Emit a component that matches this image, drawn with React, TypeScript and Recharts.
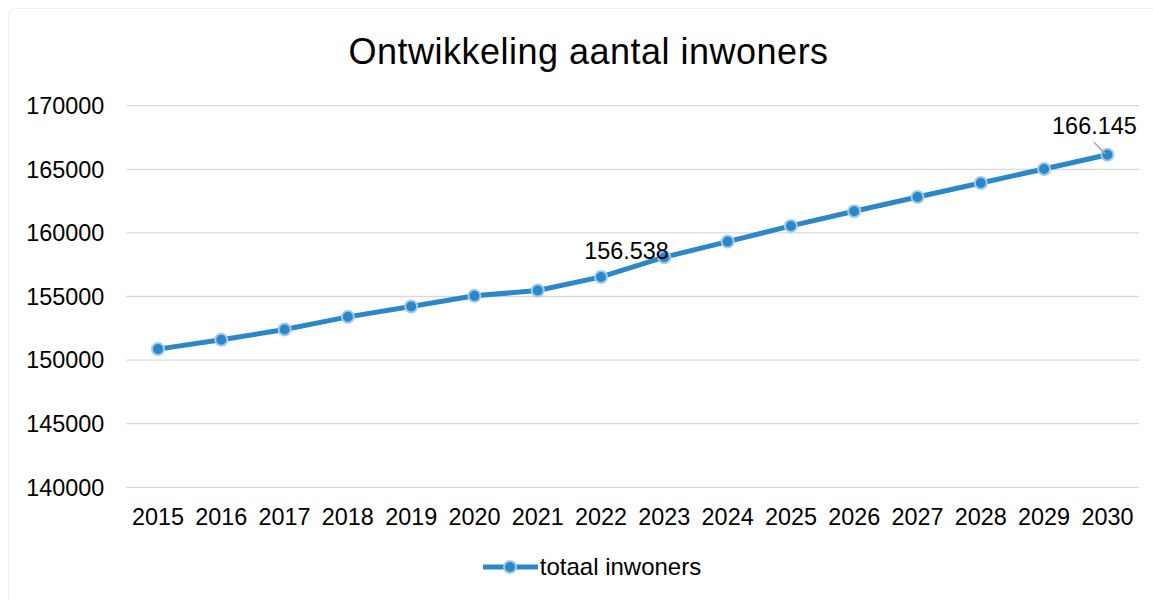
import React from 'react';
import { LineChart, Line, XAxis, YAxis, CartesianGrid, Legend } from 'recharts';

const years = ['2015', '2016', '2017', '2018', '2019', '2020', '2021', '2022', '2023', '2024', '2025', '2026', '2027', '2028', '2029', '2030'];
const inwoners = [150864, 151595, 152404, 153401, 154210, 155051, 155467, 156538, 158091, 159316, 160549, 161704, 162827, 163927, 165027, 166145];
const yTicks = [140000, 145000, 150000, 155000, 160000, 165000, 170000];
const labelledYears = ['2022', '2030'];
const seriesName = 'totaal inwoners';
const title = 'Ontwikkeling aantal inwoners';

const data = years.map((y, i) => ({ jaar: y, inwoners: inwoners[i] }));

const FONT = '"Liberation Sans", Arial, Helvetica, sans-serif';
const BLUE = '#2b87c8';
const LIGHT = '#9fcbed';

const fmt = (v: number) => {
  const s = String(v);
  return s.slice(0, s.length - 3) + '.' + s.slice(s.length - 3);
};

const DataLabel = (props: any) => {
  const { x, y, index, value } = props;
  const yr = years[index];
  if (!labelledYears.includes(yr)) return null;
  if (yr === '2030') {
    return (
      <g>
        <line x1={x - 13.5} y1={y - 12.5} x2={x - 2} y2={y - 1} stroke="#a6a6a6" strokeWidth={1.5} />
        <text x={x - 13} y={y - 20.7} textAnchor="middle" fontSize={23.4} fontFamily={FONT} fill="#000">
          {fmt(value)}
        </text>
      </g>
    );
  }
  return (
    <text x={x + 25.5} y={y - 17.7} textAnchor="middle" fontSize={23.4} fontFamily={FONT} fill="#000">
      {fmt(value)}
    </text>
  );
};

const LegendContent = () => (
  <div style={{ height: 40, display: 'flex', justifyContent: 'center', alignItems: 'center', paddingLeft: 44 }}>
    <svg width={60} height={20} style={{ display: 'block' }}>
      <line x1={1} y1={10} x2={56} y2={10} stroke={BLUE} strokeWidth={5} />
      <circle cx={28} cy={10} r={6} fill={BLUE} stroke={LIGHT} strokeWidth={2} />
    </svg>
    <span style={{ fontFamily: FONT, fontSize: 24, color: '#000', marginLeft: -2 }}>{seriesName}</span>
  </div>
);

export default function App() {
  return (
    <div style={{ position: 'absolute', left: 0, top: 0, width: 1153, height: 600, background: '#fff', overflow: 'hidden' }}>
      <div
        style={{
          position: 'absolute',
          left: 8,
          top: 8,
          width: 1170,
          height: 620,
          border: '1px solid #eeeeee',
          borderRadius: 8,
          boxSizing: 'border-box',
        }}
      />
      <div
        style={{
          position: 'absolute',
          left: 0,
          top: 31.5,
          width: 1177,
          textAlign: 'center',
          fontFamily: FONT,
          fontSize: 36,
          letterSpacing: 0.5,
          color: '#000',
          lineHeight: '40px',
          whiteSpace: 'nowrap',
        }}
      >
        {title}
      </div>
      <div style={{ position: 'absolute', left: 0, top: 0 }}>
        <LineChart
          width={1153}
          height={600}
          data={data}
          margin={{ top: 105.7, right: 14, bottom: 13.3, left: 0 }}
        >
          <CartesianGrid vertical={false} stroke="#d9d9d9" strokeWidth={1.3} />
          <XAxis
            dataKey="jaar"
            axisLine={false}
            tickLine={false}
            tickSize={0}
            tickMargin={21}
            height={59.4}
            interval={0}
            padding={{ left: 31.6, right: 31.6 }}
            tick={{ fontSize: 23.4, fontFamily: FONT, fill: '#000' }}
          />
          <YAxis
            domain={[140000, 170000]}
            ticks={yTicks}
            axisLine={false}
            tickLine={false}
            tickSize={0}
            tickMargin={22}
            width={126.4}
            interval={0}
            tick={{ fontSize: 23.4, fontFamily: FONT, fill: '#000' }}
          />
          <Legend verticalAlign="bottom" align="center" height={40} content={<LegendContent />} />
          <Line
            type="linear"
            dataKey="inwoners"
            name={seriesName}
            stroke={BLUE}
            strokeWidth={5}
            dot={{ r: 6, fill: BLUE, stroke: LIGHT, strokeWidth: 2 }}
            activeDot={false}
            isAnimationActive={false}
            label={<DataLabel />}
          />
        </LineChart>
      </div>
    </div>
  );
}
